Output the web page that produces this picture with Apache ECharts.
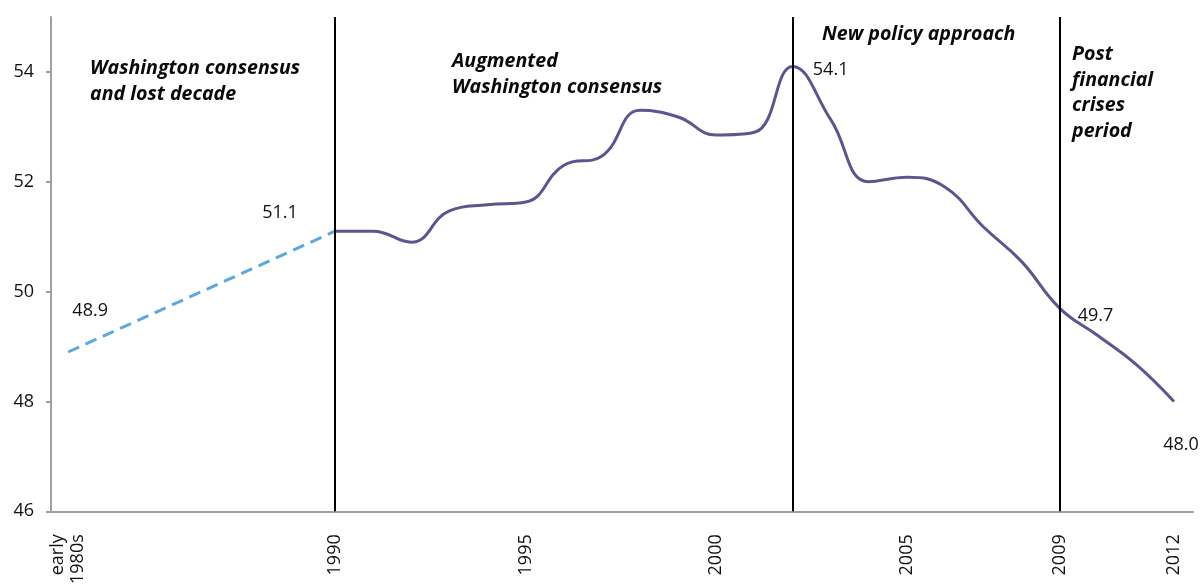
<!DOCTYPE html>
<html>
<head>
<meta charset="utf-8">
<script src="https://cdn.jsdelivr.net/npm/echarts@6/dist/echarts.min.js"></script>
<style>
html,body{margin:0;padding:0;background:#fff;}
#chart{width:1204px;height:587px;}
</style>
</head>
<body>
<div id="chart"></div>
<script>
// ---- data ----
const dashedYears = [1983, 1990];
const dashedValues = [48.9, 51.1];
const years = [1990, 1991, 1992, 1993, 1994, 1995, 1996, 1997, 1998, 1999, 2000, 2001,
                2002, 2003, 2004, 2005, 2006, 2007, 2008, 2009, 2010, 2011, 2012];
const values = [51.1, 51.1, 50.9, 51.47, 51.58, 51.63, 52.3, 52.47, 53.3, 53.18, 52.85, 52.9,
                54.1, 53.13, 52.0, 52.08, 51.9, 51.18, 50.55, 49.7, 49.2, 48.68, 48.0];
const xTickValues = [1983, 1990, 1995, 2000, 2005, 2009, 2012];
const xTickLabels = ['early\n1980s', '1990', '1995', '2000', '2005', '2009', '2012'];
const yTickValues = [46, 48, 50, 52, 54];
const periodBreaks = [1990, 2002, 2009];
const labelledSolidYears = [2002, 2009, 2012];

// ---- styling (positions/offsets of labels) ----
const dashedLabelOffsets = [[22, -41], [-55, -18]];
const solidLabelOffsets = {2002: [38, 3], 2009: [36, 8], 2012: [7, 43]};

const FONT = '"Open Sans", "Noto Sans", sans-serif';
const labelStyle = {fontFamily: FONT, fontSize: 18, color: '#111'};

const dashedData = dashedYears.map((y, i) => ({
  value: [y, dashedValues[i]],
  label: Object.assign({show: true, position: 'inside', offset: dashedLabelOffsets[i],
    formatter: (p) => p.value[1].toFixed(1)}, labelStyle)
}));
const solidData = years.map((y, i) => {
  const d = {value: [y, values[i]]};
  if (labelledSolidYears.includes(y)) {
    d.label = Object.assign({show: true, position: 'inside', offset: solidLabelOffsets[y],
      formatter: (p) => p.value[1].toFixed(1)}, labelStyle);
  }
  return d;
});

const annoFont = 'italic bold 19.6px "Open Sans", "Noto Sans", sans-serif';
function anno(text, left, top) {
  return {type: 'text', left: left, top: top, z: 100,
    style: {text: text, font: annoFont, fill: '#0a0a0a', lineHeight: 25.5}};
}

const chart = echarts.init(document.getElementById('chart'));
chart.setOption({
  animation: false,
  backgroundColor: '#fff',
  grid: {left: 51, right: 11, top: 17, bottom: 69, containLabel: false},
  xAxis: {
    type: 'value', min: 1982.55, max: 2012.5,
    axisLine: {show: true, lineStyle: {color: '#a0a0a0', width: 2}},
    axisTick: {show: false},
    splitLine: {show: false},
    axisLabel: {
      customValues: xTickValues,
      rotate: 90, margin: 23,
      fontFamily: FONT, fontSize: 18, color: '#111', lineHeight: 20,
      formatter: (v) => xTickLabels[xTickValues.indexOf(v)]
    }
  },
  yAxis: {
    type: 'value', min: 46, max: 55, interval: 2,
    axisLine: {show: true, lineStyle: {color: '#a0a0a0', width: 2}},
    axisTick: {show: true, customValues: yTickValues, length: 5, lineStyle: {color: '#a0a0a0', width: 2}},
    splitLine: {show: false},
    axisLabel: {customValues: yTickValues, margin: 17, fontFamily: FONT, fontSize: 18, color: '#111'}
  },
  series: [
    {
      type: 'line', data: dashedData, smooth: false,
      symbol: 'circle', symbolSize: 1, itemStyle: {color: 'rgba(0,0,0,0)'},
      lineStyle: {color: '#5ea8dd', width: 3, type: [12, 7]},
      z: 2
    },
    {
      type: 'line', data: solidData, smooth: 0.45,
      symbol: 'circle', symbolSize: 1, itemStyle: {color: 'rgba(0,0,0,0)'},
      lineStyle: {color: '#5f5490', width: 3},
      z: 3,
      markLine: {
        silent: true, symbol: 'none', label: {show: false},
        lineStyle: {color: '#000', width: 2, type: 'solid'},
        data: periodBreaks.map(y => ({xAxis: y}))
      }
    }
  ],
  graphic: [
    anno('Washington consensus\nand lost decade', 90, 56),
    anno('Augmented\nWashington consensus', 452, 49),
    anno('New policy approach', 822, 22),
    anno('Post\nfinancial\ncrises\nperiod', 1072, 42)
  ]
});
</script>
</body>
</html>
